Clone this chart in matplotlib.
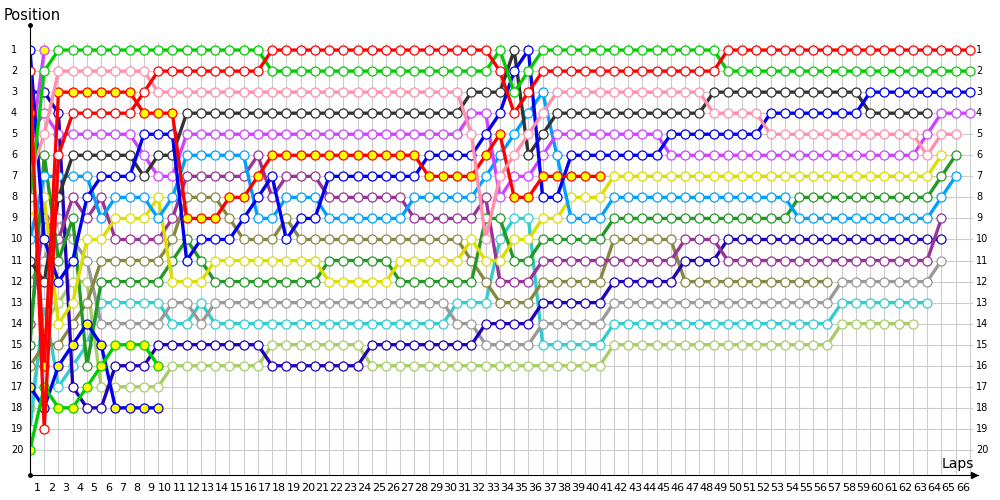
import matplotlib
matplotlib.use('Agg')
import matplotlib.pyplot as plt

# Lap chart: position of every car at the end of each lap (index 0 = grid)
red = [2, 19, 6, 4, 4, 4, 4, 4, 3, 2,
       2, 2, 2, 2, 2, 2, 2, 1, 1, 1,
       1, 1, 1, 1, 1, 1, 1, 1, 1, 1,
       1, 1, 1, 2, 4, 3, 2, 2, 2, 2,
       2, 2, 2, 2, 2, 2, 2, 2, 2, 1,
       1, 1, 1, 1, 1, 1, 1, 1, 1, 1,
       1, 1, 1, 1, 1, 1, 1]
green = [8, 2, 1, 1, 1, 1, 1, 1, 1, 1,
         1, 1, 1, 1, 1, 1, 1, 2, 2, 2,
         2, 2, 2, 2, 2, 2, 2, 2, 2, 2,
         2, 2, 2, 1, 3, 2, 1, 1, 1, 1,
         1, 1, 1, 1, 1, 1, 1, 1, 1, 2,
         2, 2, 2, 2, 2, 2, 2, 2, 2, 2,
         2, 2, 2, 2, 2, 2, 2]
pink = [7, 5, 2, 2, 2, 2, 2, 2, 2, 3,
        3, 3, 3, 3, 3, 3, 3, 3, 3, 3,
        3, 3, 3, 3, 3, 3, 3, 3, 3, 3,
        3, 5, 10, 7, 6, 5, 4, 3, 3, 3,
        3, 3, 3, 3, 3, 3, 3, 3, 4, 4,
        4, 4, 5, 5, 5, 5, 5, 5, 5, 5,
        5, 5, 5, 6, 5, 5]
black = [11, 12, 8, 6, 6, 6, 6, 6, 7, 6,
         6, 4, 4, 4, 4, 4, 4, 4, 4, 4,
         4, 4, 4, 4, 4, 4, 4, 4, 4, 4,
         4, 3, 3, 3, 1, 6, 5, 4, 4, 4,
         4, 4, 4, 4, 4, 4, 4, 4, 3, 3,
         3, 3, 3, 3, 3, 3, 3, 3, 3, 4,
         4, 4, 4, 4]
blue = [1, 10, 12, 11, 8, 7, 7, 7, 5, 5,
        5, 11, 10, 10, 10, 9, 8, 7, 10, 9,
        9, 7, 7, 7, 7, 7, 7, 7, 6, 6,
        6, 6, 5, 4, 2, 1, 8, 8, 6, 6,
        6, 6, 6, 6, 6, 5, 5, 5, 5, 5,
        5, 5, 4, 4, 4, 4, 4, 4, 4, 3,
        3, 3, 3, 3, 3, 3, 3]
purple = [5, 4, 5, 5, 5, 5, 5, 5, 6, 7,
          7, 5, 5, 5, 5, 5, 5, 5, 5, 5,
          5, 5, 5, 5, 5, 5, 5, 5, 5, 5,
          5, 4, 4, 8, 7, 7, 6, 5, 5, 5,
          5, 5, 5, 5, 5, 6, 6, 6, 6, 6,
          6, 6, 6, 6, 6, 6, 6, 6, 6, 6,
          6, 6, 6, 5, 4, 4, 4]
yellow = [9, 8, 14, 13, 10, 10, 9, 9, 9, 8,
          12, 12, 12, 11, 11, 11, 11, 11, 11, 11,
          11, 12, 12, 12, 12, 12, 11, 11, 11, 11,
          11, 10, 11, 11, 10, 10, 9, 9, 8, 8,
          8, 7, 7, 7, 7, 7, 7, 7, 7, 7,
          7, 7, 7, 7, 7, 7, 7, 7, 7, 7,
          7, 7, 7, 7, 6]
dark_green = [15, 6, 11, 9, 16, 12, 12, 12, 12, 12,
              11, 10, 11, 12, 12, 12, 12, 12, 12, 12,
              12, 11, 11, 11, 11, 11, 12, 12, 12, 12,
              12, 12, 9, 9, 11, 11, 10, 10, 10, 10,
              10, 9, 9, 9, 9, 9, 9, 9, 9, 9,
              9, 9, 9, 9, 8, 8, 8, 8, 8, 8,
              8, 8, 8, 8, 7, 6]
light_blue = [10, 7, 7, 7, 7, 9, 8, 8, 8, 9,
              8, 6, 6, 6, 6, 6, 9, 9, 8, 8,
              8, 9, 9, 9, 9, 9, 9, 8, 8, 8,
              8, 8, 7, 6, 5, 4, 3, 6, 9, 9,
              9, 8, 8, 8, 8, 8, 8, 8, 8, 8,
              8, 8, 8, 8, 9, 9, 9, 9, 9, 9,
              9, 9, 9, 9, 8, 7]
dark_purple = [14, 9, 10, 8, 9, 8, 10, 10, 10, 10,
               9, 7, 7, 7, 7, 7, 6, 8, 7, 7,
               7, 8, 8, 8, 8, 8, 8, 9, 9, 9,
               9, 9, 8, 12, 12, 12, 11, 11, 11, 11,
               11, 11, 11, 11, 11, 11, 10, 10, 10, 11,
               11, 11, 11, 11, 11, 11, 11, 11, 11, 11,
               11, 11, 11, 11, 9]
olive = [16, 15, 15, 14, 13, 11, 11, 11, 11, 11,
         10, 8, 8, 8, 9, 10, 10, 10, 9, 10,
         10, 10, 10, 10, 10, 10, 10, 10, 10, 10,
         10, 11, 12, 13, 13, 13, 12, 12, 12, 12,
         12, 10, 10, 10, 10, 10, 12, 12, 12, 12,
         12, 12, 12, 12, 12, 12, 12]
gray = [12, 11, 9, 10, 11, 14, 14, 14, 14, 14,
        13, 13, 14, 13, 13, 13, 13, 13, 13, 13,
        13, 13, 13, 13, 13, 13, 13, 13, 13, 13,
        14, 14, 15, 15, 15, 15, 14, 14, 14, 14,
        14, 13, 13, 13, 13, 13, 13, 13, 13, 13,
        13, 13, 13, 13, 13, 13, 13, 12, 12, 12,
        12, 12, 12, 12, 11]
teal = [19, 13, 17, 16, 15, 13, 13, 13, 13, 13,
        14, 14, 13, 14, 14, 14, 14, 14, 14, 14,
        14, 14, 14, 14, 14, 14, 14, 14, 14, 14,
        13, 13, 13, 10, 9, 9, 15, 15, 15, 15,
        15, 14, 14, 14, 14, 14, 14, 14, 14, 14,
        14, 14, 14, 14, 14, 14, 14, 13, 13, 13,
        13, 13, 13, 13]
light_green = [18, 14, 13, 12, 12, 17, 17, 17, 17, 17,
               16, 16, 16, 16, 16, 16, 16, 15, 15, 15,
               15, 15, 15, 15, 16, 16, 16, 16, 16, 16,
               16, 16, 16, 16, 16, 16, 16, 16, 16, 16,
               16, 15, 15, 15, 15, 15, 15, 15, 15, 15,
               15, 15, 15, 15, 15, 15, 15, 14, 14, 14,
               14, 14, 14]
navy = [3, 3, 4, 17, 18, 18, 16, 16, 16, 15,
        15, 15, 15, 15, 15, 15, 15, 16, 16, 16,
        16, 16, 16, 16, 15, 15, 15, 15, 15, 15,
        15, 15, 14, 14, 14, 14, 13, 13, 13, 13,
        13, 12, 12, 12, 12, 12, 11, 11, 11, 10,
        10, 10, 10, 10, 10, 10, 10, 10, 10, 10,
        10, 10, 10, 10, 10]
red_yellow = [4, 16, 3, 3, 3, 3, 3, 3, 4, 4,
              4, 9, 9, 9, 8, 8, 7, 6, 6, 6,
              6, 6, 6, 6, 6, 6, 6, 6, 7, 7,
              7, 7, 6, 5, 8, 8, 7, 7, 7, 7, 7]
blue_yellow = [17, 18, 16, 15, 14, 15, 18, 18, 18, 18]
green_yellow = [20, 17, 18, 18, 17, 16, 15, 15, 15, 16]
purple_yellow = [6, 1]

# (positions, line colour, marker fill)
cars = [
    (light_green, '#a8cc66', 'white'),
    (teal, '#33cccc', 'white'),
    (gray, '#999999', 'white'),
    (olive, '#888844', 'white'),
    (navy, '#2200bb', 'white'),
    (dark_purple, '#993399', 'white'),
    (dark_green, '#229922', 'white'),
    (yellow, '#dddd00', 'white'),
    (light_blue, '#00a0ff', 'white'),
    (blue_yellow, '#0000ee', '#ffff00'),
    (green_yellow, '#00cc00', '#ffff00'),
    (purple_yellow, '#cc44ff', '#ffff00'),
    (purple, '#cc44ff', 'white'),
    (black, '#333333', 'white'),
    (blue, '#0000ee', 'white'),
    (red_yellow, '#ff0000', '#ffff00'),
    (pink, '#ff8fab', 'white'),
    (green, '#00cc00', 'white'),
    (red, '#ff0000', 'white'),
]

laps = 66
x_max = 66.57
y_bottom = 21.19
y_top = -0.19

fig = plt.figure(figsize=(10, 5), dpi=100)
ax = fig.add_axes([0.03, 0.05, 0.948, 0.9])
ax.set_xlim(0, x_max)
ax.set_ylim(y_bottom, y_top)

# grid
for lap in range(1, laps + 1):
    ax.plot([lap, lap], [0.67, y_bottom], color='#cccccc', lw=0.8, zorder=0)
for pos in range(1, 21):
    ax.plot([0, 66.15], [pos, pos], color='#cccccc', lw=0.8, zorder=0)

# one line per car
for positions, colour, fill in cars:
    ax.plot(range(len(positions)), positions, color=colour, lw=2.4,
            marker='o', ms=6.5, mfc=fill, mec=colour, mew=0.9,
            solid_joinstyle='miter', zorder=2)

# axes with the little end marks
for side in ['top', 'right']:
    ax.spines[side].set_visible(False)
ax.spines['left'].set_color('black')
ax.spines['bottom'].set_color('black')
ax.set_xticks([])
ax.set_yticks([])
ax.plot([0], [y_top], 'ko', ms=2.5, clip_on=False)
ax.plot([0], [y_bottom], 'ko', ms=2.5, clip_on=False)
ax.plot([x_max - 0.3], [y_bottom], marker='>', color='black', ms=5, clip_on=False)

# position labels on both sides
for pos in range(1, 21):
    ax.text(-1.33, pos, str(pos), fontsize=7, ha='left', va='center')
    ax.text(66.43, pos, str(pos), fontsize=7, ha='left', va='center')

# lap numbers sit between the grid lines
for lap in range(1, laps + 1):
    ax.text(lap - 0.5, 21.8, str(lap), fontsize=8, ha='center', va='center')

fig.text(0.004, 0.97, 'Position', fontsize=10.5, ha='left', va='center')
fig.text(0.958, 0.072, 'Laps', fontsize=10, ha='center', va='center')

fig.savefig('out.png', dpi=100)
